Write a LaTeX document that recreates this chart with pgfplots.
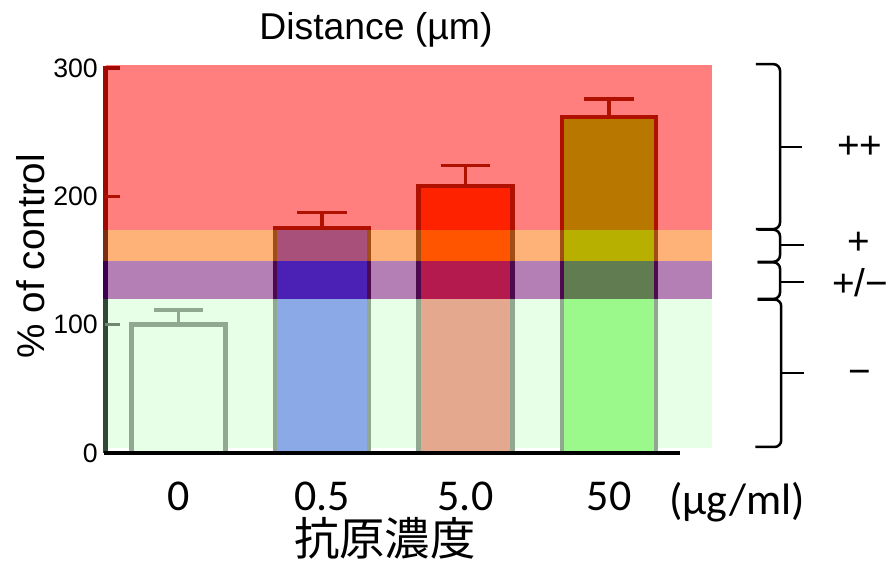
\documentclass[border=0pt]{standalone}
\usepackage{pgfplots}
\pgfplotsset{compat=1.18}
\usepackage{fontspec}
\setmainfont{Liberation Sans}
\newfontfamily\calib{Carlito}
\newfontfamily\cjk{Noto Sans CJK JP}
\definecolor{bandred}{HTML}{FF7F7F}
\definecolor{bandorange}{HTML}{FFB278}
\definecolor{bandpurple}{HTML}{B47FB4}
\definecolor{bandgreen}{HTML}{E6FFE6}
\definecolor{bAlow}{HTML}{8BA9E6}
\definecolor{bApur}{HTML}{4B20B4}
\definecolor{bAora}{HTML}{A8507A}
\definecolor{bAred}{HTML}{A8507A}
\definecolor{bBlow}{HTML}{E4A88F}
\definecolor{bBpur}{HTML}{B41A4E}
\definecolor{bBora}{HTML}{FF5500}
\definecolor{bBred}{HTML}{FF2200}
\definecolor{bClow}{HTML}{9AF98A}
\definecolor{bCpur}{HTML}{607C50}
\definecolor{bCora}{HTML}{B8B000}
\definecolor{bCred}{HTML}{B87800}
\definecolor{outlow}{HTML}{8FA88F}
\definecolor{outpur}{HTML}{4E0A4E}
\definecolor{outora}{HTML}{A04E14}
\definecolor{outred}{HTML}{B01000}
\definecolor{axred}{HTML}{A00800}
\definecolor{axora}{HTML}{7A3010}
\definecolor{axpur}{HTML}{3C0050}
\definecolor{axlow}{HTML}{2E4A34}
\begin{document}
\begin{tikzpicture}
\begin{axis}[
  x=107.625pt, y=0.9625pt,
  xmin=-0.5087, xmax=3.718, ymin=0, ymax=302,
  clip=false,
  axis lines=left,
  axis line style={draw=none},
  major tick length=0pt,
  xtick={0,1,2,3},
  xticklabels={0,0.5,5.0,50},
  xticklabel style={font=\calib\fontsize{33}{38}\selectfont, anchor=base, yshift=-42.75pt, inner sep=0pt},
  ytick={0,100,200,300},
  yticklabel style={font=\fontsize{20}{24}\selectfont, anchor=east, inner sep=0pt, xshift=-5.6pt},
  /pgf/number format/assume math mode=true,
]
% background bands
\addplot[fill=bandred, draw=none] coordinates {(-0.505,173.6) (3.718,173.6) (3.718,302) (-0.505,302)} -- cycle;
\addplot[fill=bandorange, draw=none] coordinates {(-0.505,149.9) (3.718,149.9) (3.718,173.6) (-0.505,173.6)} -- cycle;
\addplot[fill=bandpurple, draw=none] coordinates {(-0.505,119.8) (3.718,119.8) (3.718,149.9) (-0.505,149.9)} -- cycle;
\addplot[fill=bandgreen, draw=none] coordinates {(-0.505,3.9) (3.718,3.9) (3.718,119.8) (-0.505,119.8)} -- cycle;

% bars: full-height layers
\addplot[ybar, bar width=0.655, fill=bandgreen, draw=none] coordinates {(0,100)};
\addplot[ybar, bar width=0.655, fill=bAred, draw=none] coordinates {(1,175.3)};
\addplot[ybar, bar width=0.655, fill=bBred, draw=none] coordinates {(2,208)};
\addplot[ybar, bar width=0.655, fill=bCred, draw=none] coordinates {(3,262)};
% orange-zone layers
\addplot[ybar, bar width=0.655, fill=bAora, draw=none] coordinates {(1,173.6)};
\addplot[ybar, bar width=0.655, fill=bBora, draw=none] coordinates {(2,173.6)};
\addplot[ybar, bar width=0.655, fill=bCora, draw=none] coordinates {(3,173.6)};
% purple-zone layers
\addplot[ybar, bar width=0.655, fill=bApur, draw=none] coordinates {(1,149.9)};
\addplot[ybar, bar width=0.655, fill=bBpur, draw=none] coordinates {(2,149.9)};
\addplot[ybar, bar width=0.655, fill=bCpur, draw=none] coordinates {(3,149.9)};
% low-zone layers
\addplot[ybar, bar width=0.655, fill=bAlow, draw=none] coordinates {(1,119.8)};
\addplot[ybar, bar width=0.655, fill=bBlow, draw=none] coordinates {(2,119.8)};
\addplot[ybar, bar width=0.655, fill=bClow, draw=none] coordinates {(3,119.8)};

% error bars (mean + SE)
\addplot[draw=outlow, line width=2.6pt, unbounded coords=jump] coordinates {
  (0,100) (0,111.4) (0.1,nan) (-0.174,111.4) (0.174,111.4)};
\addplot[draw=outred, line width=2.6pt, unbounded coords=jump] coordinates {
  (1,175.3) (1,187.3) (1.1,nan) (0.826,187.3) (1.174,187.3) (1.5,nan)
  (2,208) (2,224) (2.1,nan) (1.826,224) (2.174,224) (2.5,nan)
  (3,262) (3,276) (3.1,nan) (2.826,276) (3.174,276)};

% outlines
\addplot[draw=outlow, line width=3.4pt, line join=miter] coordinates {(-0.3275,0) (-0.3275,100) (0.3275,100) (0.3275,0)};
\addplot[draw=outlow, line width=3.4pt, unbounded coords=jump] coordinates {
  (0.6725,0) (0.6725,119.8) (1,nan) (1.3275,0) (1.3275,119.8) (1.5,nan)
  (1.6725,0) (1.6725,119.8) (2,nan) (2.3275,0) (2.3275,119.8) (2.5,nan)
  (2.6725,0) (2.6725,119.8) (3,nan) (3.3275,0) (3.3275,119.8)};
\addplot[draw=outpur, line width=3.4pt, unbounded coords=jump] coordinates {
  (0.6725,119.8) (0.6725,149.9) (1,nan) (1.3275,119.8) (1.3275,149.9) (1.5,nan)
  (1.6725,119.8) (1.6725,149.9) (2,nan) (2.3275,119.8) (2.3275,149.9) (2.5,nan)
  (2.6725,119.8) (2.6725,149.9) (3,nan) (3.3275,119.8) (3.3275,149.9)};
\addplot[draw=outora, line width=3.4pt, unbounded coords=jump] coordinates {
  (0.6725,149.9) (0.6725,173.6) (1,nan) (1.3275,149.9) (1.3275,173.6) (1.5,nan)
  (1.6725,149.9) (1.6725,173.6) (2,nan) (2.3275,149.9) (2.3275,173.6) (2.5,nan)
  (2.6725,149.9) (2.6725,173.6) (3,nan) (3.3275,149.9) (3.3275,173.6)};
\addplot[draw=outred, line width=3.4pt, line join=miter] coordinates {(0.6725,173.6) (0.6725,175.3) (1.3275,175.3) (1.3275,173.6)};
\addplot[draw=outred, line width=3.4pt, line join=miter] coordinates {(1.6725,173.6) (1.6725,208) (2.3275,208) (2.3275,173.6)};
\addplot[draw=outred, line width=3.4pt, line join=miter] coordinates {(2.6725,173.6) (2.6725,262) (3.3275,262) (3.3275,173.6)};

% axis lines and ticks
\draw[axred, line width=3.2pt, line join=miter] (axis cs:-0.4077,300) -- (axis cs:-0.5087,300) -- (axis cs:-0.5087,173.6);
\draw[axora, line width=3.2pt] (axis cs:-0.5087,173.6) -- (axis cs:-0.5087,149.9);
\draw[axpur, line width=3.2pt] (axis cs:-0.5087,149.9) -- (axis cs:-0.5087,119.8);
\draw[axlow, line width=3.2pt] (axis cs:-0.5087,119.8) -- (axis cs:-0.5087,0);
\draw[outred, line width=2.4pt] (axis cs:-0.5087,200) -- (axis cs:-0.4077,200);
\draw[outlow!80!black, line width=2.4pt] (axis cs:-0.5087,100) -- (axis cs:-0.4077,100);
\draw[black, line width=3.4pt] (axis cs:-0.522,0) -- (axis cs:3.495,0);

% texts
\node[font=\fontsize{28}{33}\selectfont] at (axis cs:1.376,329.6) {Distance (µm)};
\node[rotate=90, font=\fontsize{29}{34}\selectfont] at (axis cs:-1.028,153.5) {\% of control};
\node[font=\calib\fontsize{33}{38}\selectfont, anchor=base] at (axis cs:3.893,-48.3) {(µg/ml)};
\node[font=\cjk\fontsize{34}{40}\selectfont, inner sep=0pt] at (axis cs:1.439,-66.5) {抗原濃度};

% braces
\draw[line width=1.9pt, rounded corners=5pt] (axis cs:4.024,303) -- (axis cs:4.192,303) -- (axis cs:4.192,174.5) -- (axis cs:4.024,174.5);
\draw[line width=1.9pt] (axis cs:4.192,238.4) -- (axis cs:4.345,238.4);
\draw[line width=1.9pt, rounded corners=5pt] (axis cs:4.035,174) -- (axis cs:4.192,174) -- (axis cs:4.192,149) -- (axis cs:4.035,149);
\draw[line width=1.9pt] (axis cs:4.192,162.1) -- (axis cs:4.36,162.1);
\draw[line width=1.9pt, rounded corners=5pt] (axis cs:4.035,148.6) -- (axis cs:4.192,148.6) -- (axis cs:4.192,120) -- (axis cs:4.035,120);
\draw[line width=1.9pt] (axis cs:4.192,133.2) -- (axis cs:4.36,133.2);
\draw[line width=1.9pt, rounded corners=5pt] (axis cs:4.035,119.6) -- (axis cs:4.2,119.6) -- (axis cs:4.2,4.7) -- (axis cs:4.02,4.7);
\draw[line width=1.9pt] (axis cs:4.2,62.3) -- (axis cs:4.36,62.3);
\node[font=\fontsize{29}{34}\selectfont] at (axis cs:4.749,238.4) {++};
\node[font=\fontsize{29}{34}\selectfont] at (axis cs:4.742,163.6) {+};
\node[font=\fontsize{29}{34}\selectfont] at (axis cs:4.749,132.5) {+/−};
\node[font=\fontsize{29}{34}\selectfont] at (axis cs:4.749,59.2) {−};

\coordinate (BL) at (axis cs:-1.2439,-83.38);
\coordinate (TR) at (axis cs:4.9721,353.0);
\end{axis}
\pgfresetboundingbox
\path[use as bounding box] (BL) rectangle (TR);
\end{tikzpicture}
\end{document}
